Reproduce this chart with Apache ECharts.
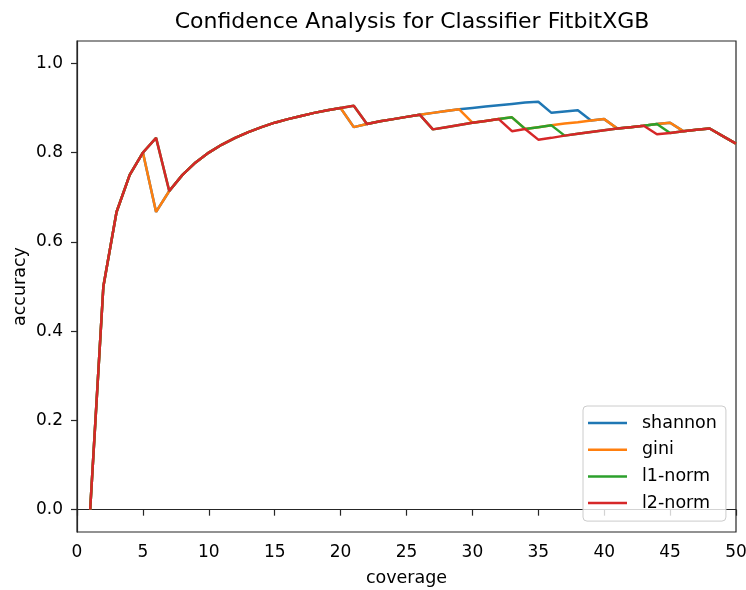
<!DOCTYPE html>
<html>
<head>
<meta charset="utf-8">
<script src="https://cdn.jsdelivr.net/npm/echarts@6.0.0/dist/echarts.min.js"></script>
<style>
  html, body { margin: 0; padding: 0; background: #fff; }
  #chart { width: 746px; height: 590px; }
</style>
</head>
<body>
<div id="chart"></div>
<script>
// Number of top-confidence samples kept
const coverage = [1,2,3,4,5,6,7,8,9,10,11,12,13,14,15,16,17,18,19,20,
  21,22,23,24,25,26,27,28,29,30,31,32,33,34,35,36,37,38,39,40,
  41,42,43,44,45,46,47,48,49,50];

// Accuracy over the kept samples, one array per uncertainty measure
const shannon = [0.000,0.500,0.667,0.750,0.800,0.667,0.714,0.750,0.778,0.800,
  0.818,0.833,0.846,0.857,0.867,0.875,0.882,0.889,0.895,0.900,
  0.857,0.864,0.870,0.875,0.880,0.885,0.889,0.893,0.897,0.900,
  0.903,0.906,0.909,0.912,0.914,0.889,0.892,0.895,0.872,0.875,
  0.854,0.857,0.860,0.864,0.867,0.848,0.851,0.854,0.837,0.820];
const gini = [0.000,0.500,0.667,0.750,0.800,0.667,0.714,0.750,0.778,0.800,
  0.818,0.833,0.846,0.857,0.867,0.875,0.882,0.889,0.895,0.900,
  0.857,0.864,0.870,0.875,0.880,0.885,0.889,0.893,0.897,0.867,
  0.871,0.875,0.879,0.853,0.857,0.861,0.865,0.868,0.872,0.875,
  0.854,0.857,0.860,0.864,0.867,0.848,0.851,0.854,0.837,0.820];
const l1Norm = [0.000,0.500,0.667,0.750,0.800,0.833,0.714,0.750,0.778,0.800,
  0.818,0.833,0.846,0.857,0.867,0.875,0.882,0.889,0.895,0.900,
  0.905,0.864,0.870,0.875,0.880,0.885,0.852,0.857,0.862,0.867,
  0.871,0.875,0.879,0.853,0.857,0.861,0.838,0.842,0.846,0.850,
  0.854,0.857,0.860,0.864,0.844,0.848,0.851,0.854,0.837,0.820];
const l2Norm = [0.000,0.500,0.667,0.750,0.800,0.833,0.714,0.750,0.778,0.800,
  0.818,0.833,0.846,0.857,0.867,0.875,0.882,0.889,0.895,0.900,
  0.905,0.864,0.870,0.875,0.880,0.885,0.852,0.857,0.862,0.867,
  0.871,0.875,0.848,0.853,0.829,0.833,0.838,0.842,0.846,0.850,
  0.854,0.857,0.860,0.841,0.844,0.848,0.851,0.854,0.837,0.820];

const seriesNames = ['shannon', 'gini', 'l1-norm', 'l2-norm'];
const seriesValues = [shannon, gini, l1Norm, l2Norm];
const seriesColors = ['#1f77b4', '#ff7f0e', '#2ca02c', '#d62728'];

const yTicks = [0.0, 0.2, 0.4, 0.6, 0.8, 1.0];

const FONT = 'DejaVu Sans';
const TICK_SIZE = 17;
const LABEL_SIZE = 17.5;

const chart = echarts.init(document.getElementById('chart'), null, { renderer: 'canvas' });

chart.setOption({
  animation: false,
  backgroundColor: '#ffffff',
  title: {
    text: 'Confidence Analysis for Classifier FitbitXGB',
    left: 407,
    top: 6,
    textAlign: 'center',
    textStyle: { fontFamily: FONT, fontSize: 22, fontWeight: 'normal', color: '#000' }
  },
  grid: {
    left: 77, right: 10, top: 41, bottom: 58,
    outerBoundsMode: 'none',
    containLabel: false,
    show: true, borderColor: '#262626', borderWidth: 1.2, backgroundColor: 'transparent'
  },
  legend: {
    orient: 'vertical',
    left: 583,
    top: 406,
    data: seriesNames,
    icon: 'rect',
    itemWidth: 39,
    itemHeight: 2.5,
    itemGap: 8.7,
    padding: [8, 9, 9, 5],
    backgroundColor: 'rgba(255,255,255,0.8)',
    borderColor: '#cccccc',
    borderWidth: 1,
    borderRadius: 4,
    textStyle: { fontFamily: FONT, fontSize: LABEL_SIZE, color: '#000', lineHeight: 17, padding: [0, 0, 0, 10] }
  },
  xAxis: {
    type: 'value',
    min: 0, max: 50, interval: 5,
    name: 'coverage',
    nameLocation: 'middle',
    nameGap: 37,
    nameMoveOverlap: false,
    nameTextStyle: { fontFamily: FONT, fontSize: LABEL_SIZE, color: '#000' },
    axisLine: { show: true, lineStyle: { color: '#262626', width: 1.2 } },
    axisTick: { show: true, length: 6, lineStyle: { color: '#262626', width: 1.2 } },
    axisLabel: { fontFamily: FONT, fontSize: TICK_SIZE, color: '#000', margin: 12 },
    splitLine: { show: false }
  },
  yAxis: {
    type: 'value',
    min: -0.05, max: 1.05,
    name: 'accuracy',
    nameLocation: 'middle',
    nameGap: 48,
    nameMoveOverlap: false,
    nameTextStyle: { fontFamily: FONT, fontSize: LABEL_SIZE, color: '#000' },
    axisLine: { show: true, lineStyle: { color: '#262626', width: 1.2 } },
    axisTick: { show: true, length: 6, customValues: yTicks, lineStyle: { color: '#262626', width: 1.2 } },
    axisLabel: {
      fontFamily: FONT, fontSize: TICK_SIZE, color: '#000', margin: 14,
      customValues: yTicks,
      formatter: v => v.toFixed(1)
    },
    splitLine: { show: false }
  },
  series: seriesNames.map((name, i) => ({
    name,
    type: 'line',
    data: coverage.map((c, j) => [c, seriesValues[i][j]]),
    showSymbol: false,
    symbol: 'none',
    color: seriesColors[i],
    lineStyle: { color: seriesColors[i], width: 2.5 },
    z: 2 + i
  }))
});
</script>
</body>
</html>
